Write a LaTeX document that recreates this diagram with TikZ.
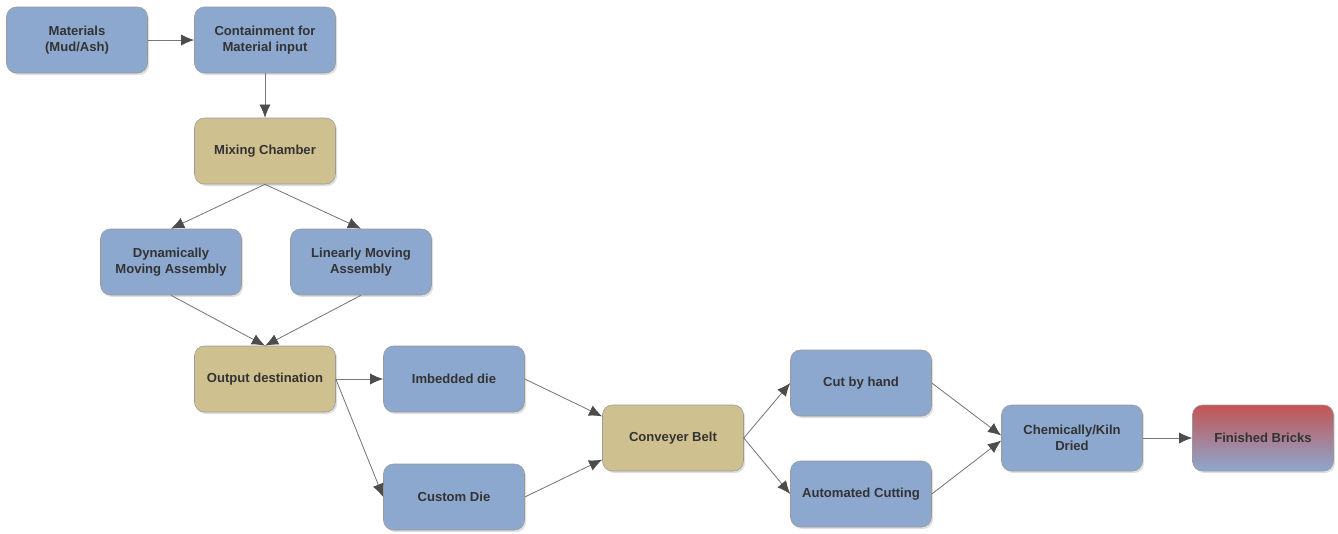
\documentclass[tikz,border=0pt]{standalone}
\usepackage{fontspec}
\setmainfont{Liberation Sans}
\usepackage{tikz}
\definecolor{boxblue}{RGB}{140, 168, 206}
\definecolor{boxtan}{RGB}{207, 193, 143}
\definecolor{boxred}{RGB}{196, 84, 84}
\definecolor{pfeilgrau}{RGB}{120, 120, 120}
\usetikzlibrary{arrows.meta, shadows}

\begin{document}
\begin{tikzpicture}[x=0.25mm, y=-0.25mm,
			box/.style={draw=black!40, rounded corners=2.5mm, minimum width=35.25mm, minimum height=16.5mm,
				inner sep=1pt, align=center, text=black!80, font=\fontsize{9.3}{11}\selectfont\bfseries,
				drop shadow={opacity=0.25, shadow xshift=0.4mm, shadow yshift=-0.5mm}},
			blau/.style={box, fill=boxblue},
			sand/.style={box, fill=boxtan},
			pfeil/.style={draw=pfeilgrau, line width=0.6pt, -{Latex[length=3.3mm, width=2.8mm, color=black!70]}}]
			%Bildbereich festlegen
			\useasboundingbox (0,0) rectangle (1338,533);
			%Knoten zeichnen
			\node[blau] (mat) at (77,40) {Materials\\(Mud/Ash)};
			\node[blau] (cont) at (265,40) {Containment for\\Material input};
			\node[sand] (mix) at (265,151) {Mixing Chamber};
			\node[blau] (dyn) at (171,262) {Dynamically\\Moving Assembly};
			\node[blau] (lin) at (361,262) {Linearly Moving\\Assembly};
			\node[sand] (out) at (265,379) {Output destination};
			\node[blau] (imb) at (454,379) {Imbedded die};
			\node[blau] (cus) at (454,497) {Custom Die};
			\node[sand] (conv) at (673,438) {Conveyer Belt};
			\node[blau] (hand) at (861,383) {Cut by hand};
			\node[blau] (auto) at (861,494) {Automated Cutting};
			\node[blau] (chem) at (1072,438) {Chemically/Kiln\\Dried};
			\node[box, top color=boxred, bottom color=boxblue] (fin) at (1263,438) {Finished Bricks};
			%Pfeile zeichnen
			\draw[pfeil] (mat) -- (cont);
			\draw[pfeil] (cont) -- (mix);
			\draw[pfeil] (mix.south) -- (dyn.north);
			\draw[pfeil] (mix.south) -- (lin.north);
			\draw[pfeil] (dyn.south) -- (out.north);
			\draw[pfeil] (lin.south) -- (out.north);
			\draw[pfeil] (out.east) -- (imb.west);
			\draw[pfeil] (out.east) -- (cus.west);
			\draw[pfeil] (imb.east) -- (conv.163);
			\draw[pfeil] (cus.east) -- (conv.197);
			\draw[pfeil] (conv.east) -- (hand.west);
			\draw[pfeil] (conv.east) -- (auto.west);
			\draw[pfeil] (hand.east) -- (chem.178);
			\draw[pfeil] (auto.east) -- (chem.182);
			\draw[pfeil] (chem) -- (fin);
		\end{tikzpicture}
\end{document}
